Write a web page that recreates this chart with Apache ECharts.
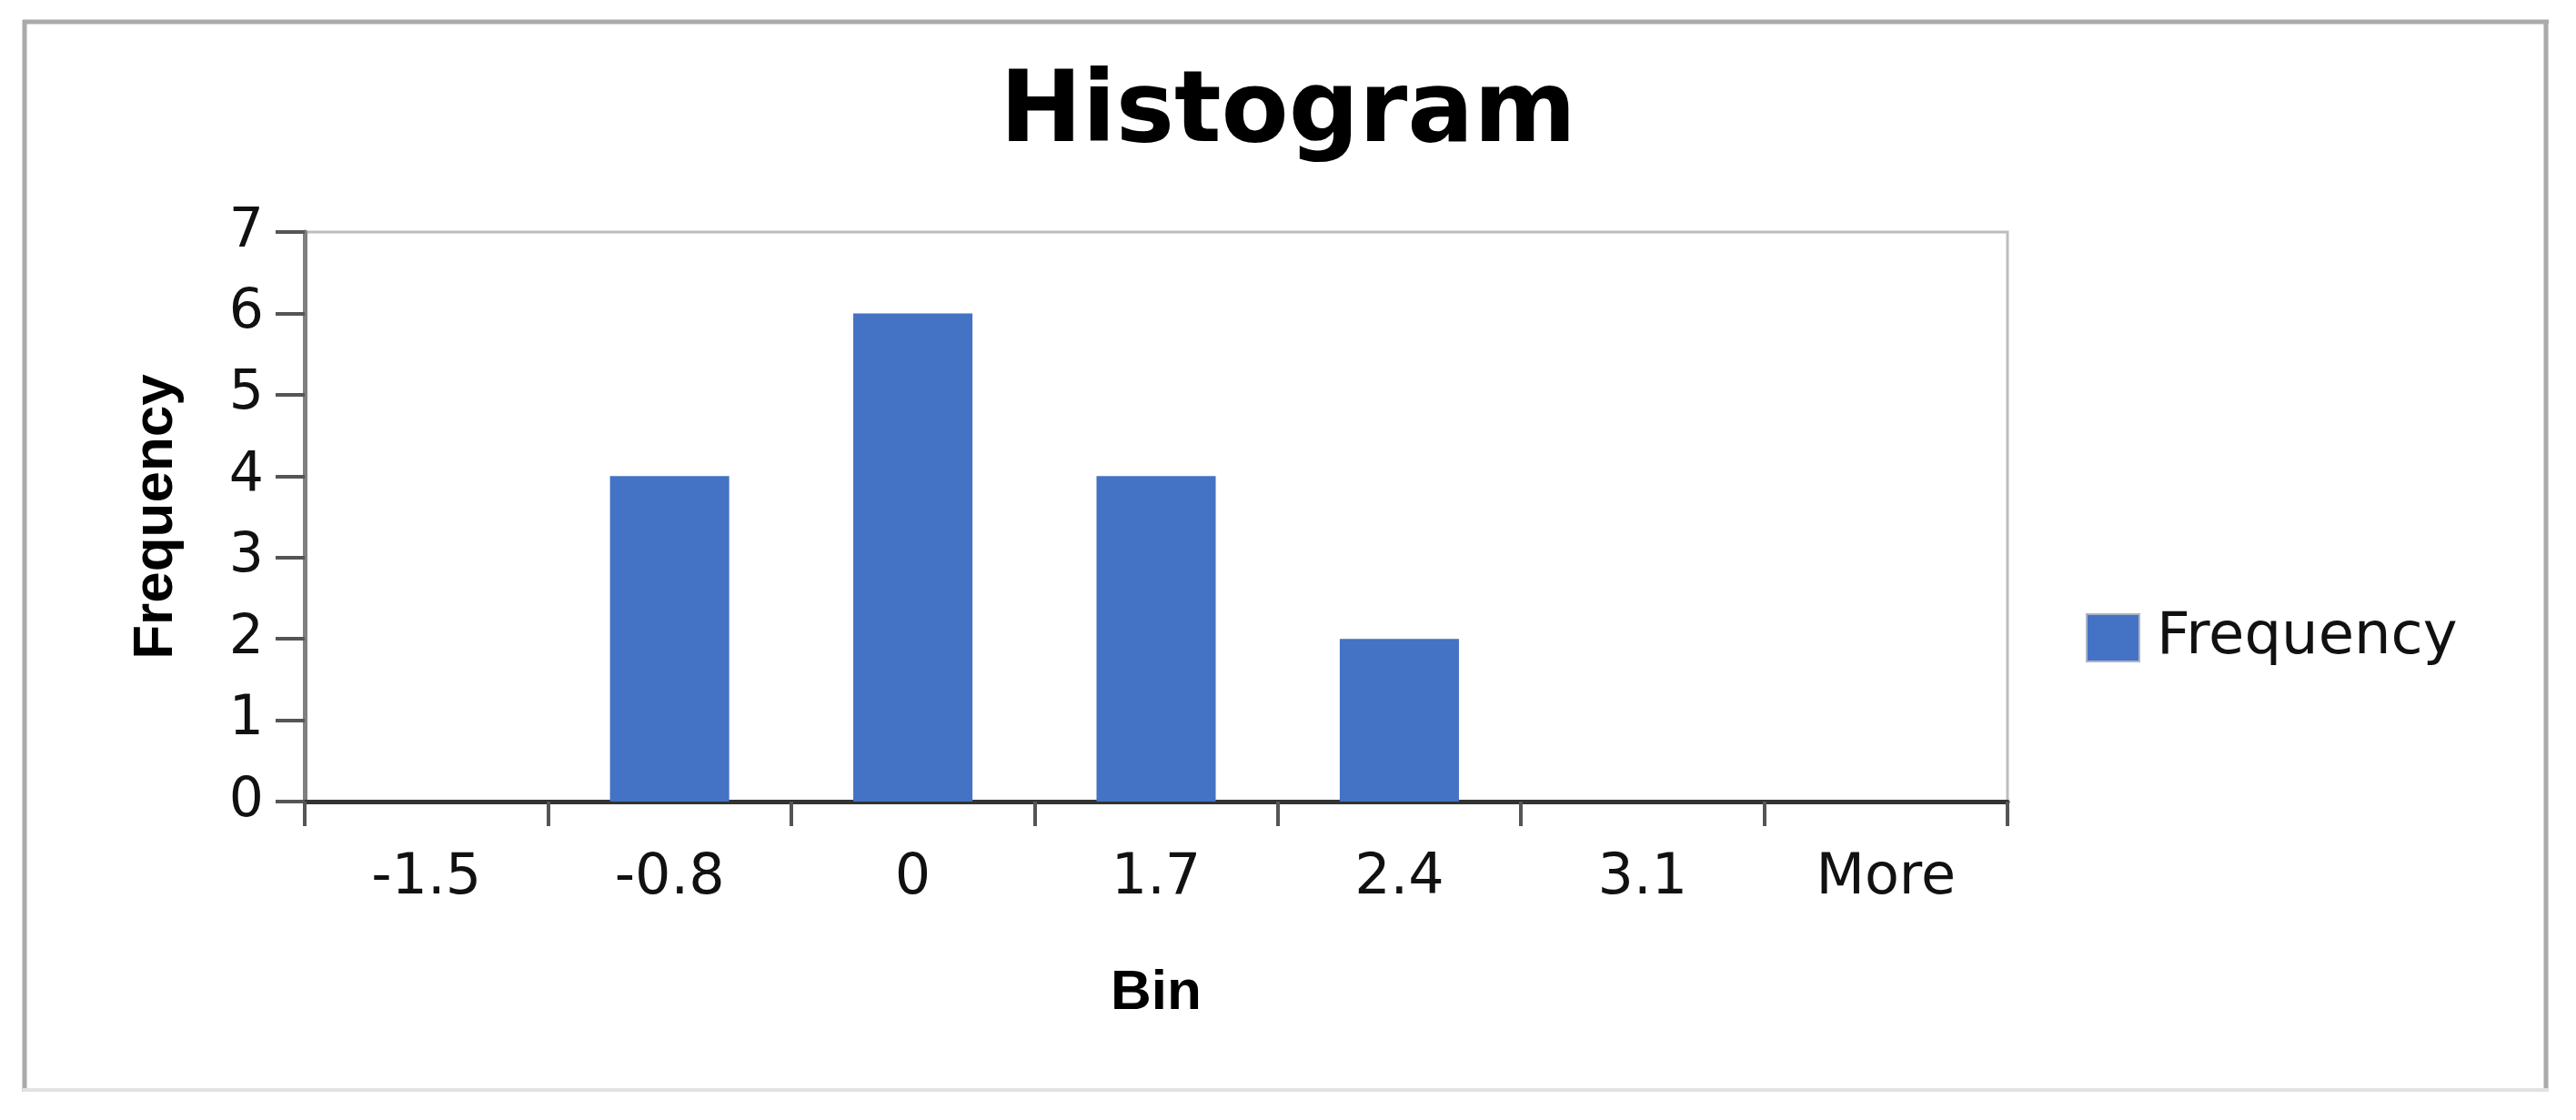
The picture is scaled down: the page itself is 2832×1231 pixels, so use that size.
<!DOCTYPE html>
<html>
<head>
<meta charset="utf-8">
<script src="https://cdn.jsdelivr.net/npm/echarts@6/dist/echarts.min.js"></script>
<style>
html,body{margin:0;padding:0;background:#fff;}
#chart{width:2832px;height:1231px;}
</style>
</head>
<body>
<div id="chart"></div>
<script>
const titleText = 'Histogram';
const bins = ['-1.5', '-0.8', '0', '1.7', '2.4', '3.1', 'More'];
const frequency = [0, 4, 6, 4, 2, 0, 0];
const seriesName = 'Frequency';
const xAxisTitle = 'Bin';
const yAxisTitle = 'Frequency';

const chart = echarts.init(document.getElementById('chart'));
chart.setOption({
  animation: false,
  backgroundColor: '#ffffff',
  title: {
    text: titleText,
    left: 'center',
    top: 68,
    textStyle: { fontFamily: 'DejaVu Sans', fontWeight: 'bold', fontSize: 108, color: '#000' }
  },
  legend: {
    data: [seriesName],
    left: 2288,
    top: 664,
    itemWidth: 58,
    itemHeight: 52,
    icon: 'rect',
    itemStyle: { borderColor: '#aab4c8', borderWidth: 2 },
    textStyle: { fontFamily: 'DejaVu Sans', fontSize: 64, color: '#111', padding: [0, 0, 0, 14] }
  },
  grid: { left: 335, top: 255, right: 625, bottom: 350, show: true, borderColor: '#bdbdbd', borderWidth: 3, backgroundColor: 'transparent' },
  xAxis: {
    type: 'category',
    data: bins,
    name: xAxisTitle,
    nameLocation: 'middle',
    nameGap: 180,
    nameTextStyle: { fontFamily: 'Liberation Sans', fontWeight: 'bold', fontSize: 62, color: '#000' },
    axisLine: { lineStyle: { color: '#333', width: 5 } },
    axisTick: { show: true, alignWithLabel: false, length: 27, lineStyle: { color: '#555', width: 4 } },
    axisLabel: { margin: 54, fontFamily: 'DejaVu Sans', fontSize: 62, color: '#111' }
  },
  yAxis: {
    type: 'value',
    min: 0, max: 7, interval: 1,
    name: yAxisTitle,
    nameLocation: 'middle',
    nameGap: 132,
    nameTextStyle: { fontFamily: 'Liberation Sans', fontWeight: 'bold', fontSize: 62, color: '#000' },
    axisLine: { show: true, lineStyle: { color: '#7f7f7f', width: 5 } },
    axisTick: { show: true, length: 32, lineStyle: { color: '#555', width: 4 } },
    axisLabel: { margin: 45, fontFamily: 'DejaVu Sans', fontSize: 60, color: '#111' },
    splitLine: { show: false }
  },
  series: [{
    name: seriesName,
    type: 'bar',
    data: frequency,
    barWidth: '49%',
    itemStyle: { color: '#4472C4' }
  }],
  graphic: [
    { type: 'line', shape: { x1: 25, y1: 24, x2: 2802, y2: 24 }, style: { stroke: '#aaaaaa', lineWidth: 5 } },
    { type: 'line', shape: { x1: 27, y1: 22, x2: 27, y2: 1200 }, style: { stroke: '#aaaaaa', lineWidth: 5 } },
    { type: 'line', shape: { x1: 2799, y1: 22, x2: 2799, y2: 1200 }, style: { stroke: '#aaaaaa', lineWidth: 5 } },
    { type: 'line', shape: { x1: 25, y1: 1198, x2: 2802, y2: 1198 }, style: { stroke: '#e2e2e2', lineWidth: 4 } }
  ]
});
</script>
</body>
</html>
